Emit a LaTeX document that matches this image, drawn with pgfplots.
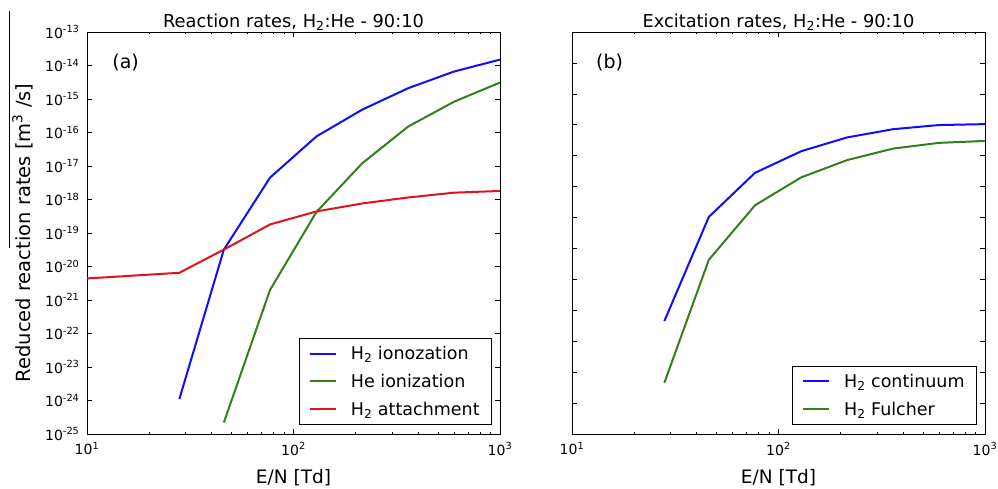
\documentclass[border=0pt]{standalone}
\usepackage{fontspec}
\setmainfont{DejaVu Sans}
\usepackage{pgfplots}
\pgfplotsset{compat=1.18}
\definecolor{lineblue}{rgb}{0.05,0.05,1}
\definecolor{linegreen}{rgb}{0.2,0.5,0.1}
\definecolor{linered}{rgb}{0.87,0.08,0.1}
\newcommand{\decade}{10\textsuperscript{\pgfmathparse{int(round(\tick))}\pgfmathresult}}
\pgfplotsset{
  legend image code/.code={\draw[#1, line width=2pt] (0pt,0pt) -- (26pt,0pt);},
  every axis/.append style={
    scale only axis, width=413pt, height=402pt,
    xmin=10, xmax=1000, yminorticks=false,
    tick align=inside, major tick length=5pt, minor tick length=2.5pt,
    axis line style={line width=0.8pt},
    every tick/.style={black, line width=0.6pt},
    tick label style={font=\fontsize{14}{14}\selectfont},
    xticklabel style={yshift=-5pt}, yticklabel style={xshift=-4pt},
    title style={at={(axis description cs:0.5,1)}, anchor=base, yshift=-1pt, font=\fontsize{17.8}{18}\selectfont},
    xlabel style={at={(axis description cs:0.5,-0.122)}, anchor=base, font=\fontsize{18.5}{19}\selectfont},
    ylabel style={font=\fontsize{19.5}{20}\selectfont},
    legend style={at={(axis description cs:1,0)}, anchor=south east, xshift=-8pt, yshift=9pt,
      font=\fontsize{17.5}{18}\selectfont, draw=black, line width=0.8pt,
      inner xsep=10pt, inner ysep=6pt, row sep=9pt, column sep=12pt},
    legend cell align=left},
  every axis plot/.append style={line width=2pt}}

\begin{document}
\begin{tikzpicture}
\path[use as bounding box] (0pt,0pt) rectangle (998pt,489pt);
\draw[line width=0.8pt] (9pt,478pt) -- (9pt,241pt);
% (a) reaction rates
\begin{loglogaxis}[at={(87pt,55pt)}, anchor=south west, ymin=1e-25, ymax=1e-13,
  log basis x=10, log basis y=10, xticklabel={\decade}, yticklabel={\decade},
  ytick={1e-25,1e-24,1e-23,1e-22,1e-21,1e-20,1e-19,1e-18,1e-17,1e-16,1e-15,1e-14,1e-13},
  title={Reaction rates, H\textsubscript{2}:He - 90:10},
  xlabel={E/N [Td]},
  ylabel={Reduced reaction rates [m\textsuperscript{3} /s]},
  ylabel style={at={(axis description cs:-0.138,0.5)}, anchor=base}]
\addplot[lineblue] coordinates {(28,1.1e-24) (46,3.2e-20) (77,4.5e-18) (129,7.6e-17) (215,4.8e-16) (359,2.1e-15) (599,6.6e-15) (1000,1.5e-14)};
\addlegendentry{H\textsubscript{2} ionozation}
\addplot[linegreen] coordinates {(46,2.2e-25) (77,2.0e-21) (129,4.2e-19) (215,1.2e-17) (359,1.5e-16) (599,8.3e-16) (1000,3.1e-15)};
\addlegendentry{He ionization}
\addplot[linered] coordinates {(10,4.4e-21) (28,6.5e-21) (46,3.2e-20) (77,1.8e-19) (129,4.4e-19) (215,7.6e-19) (359,1.15e-18) (599,1.6e-18) (1000,1.8e-18)};
\addlegendentry{H\textsubscript{2} attachment}
\node[anchor=west, font=\fontsize{19}{19}\selectfont] at (axis description cs:0.053,0.925) {(a)};
\end{loglogaxis}
% (b) excitation rates
\begin{loglogaxis}[at={(572pt,55pt)}, anchor=south west, ymin=1e-26, ymax=1e-13,
  log basis x=10, log basis y=10, xticklabel={\decade},
  ytick={1e-26,1e-25,1e-24,1e-23,1e-22,1e-21,1e-20,1e-19,1e-18,1e-17,1e-16,1e-15,1e-14,1e-13},
  yticklabels={},
  title={Excitation rates, H\textsubscript{2}:He - 90:10},
  xlabel={E/N [Td]}]
\addplot[lineblue] coordinates {(28,4.5e-23) (46,1.05e-19) (77,2.8e-18) (129,1.4e-17) (215,3.9e-17) (359,7.2e-17) (599,9.8e-17) (1000,1.05e-16)};
\addlegendentry{H\textsubscript{2} continuum}
\addplot[linegreen] coordinates {(28,4.5e-25) (46,4.3e-21) (77,2.5e-19) (129,2.0e-18) (215,7.2e-18) (359,1.7e-17) (599,2.6e-17) (1000,3.0e-17)};
\addlegendentry{H\textsubscript{2} Fulcher}
\node[anchor=west, font=\fontsize{19}{19}\selectfont] at (axis description cs:0.05,0.925) {(b)};
\end{loglogaxis}
\end{tikzpicture}
\end{document}
